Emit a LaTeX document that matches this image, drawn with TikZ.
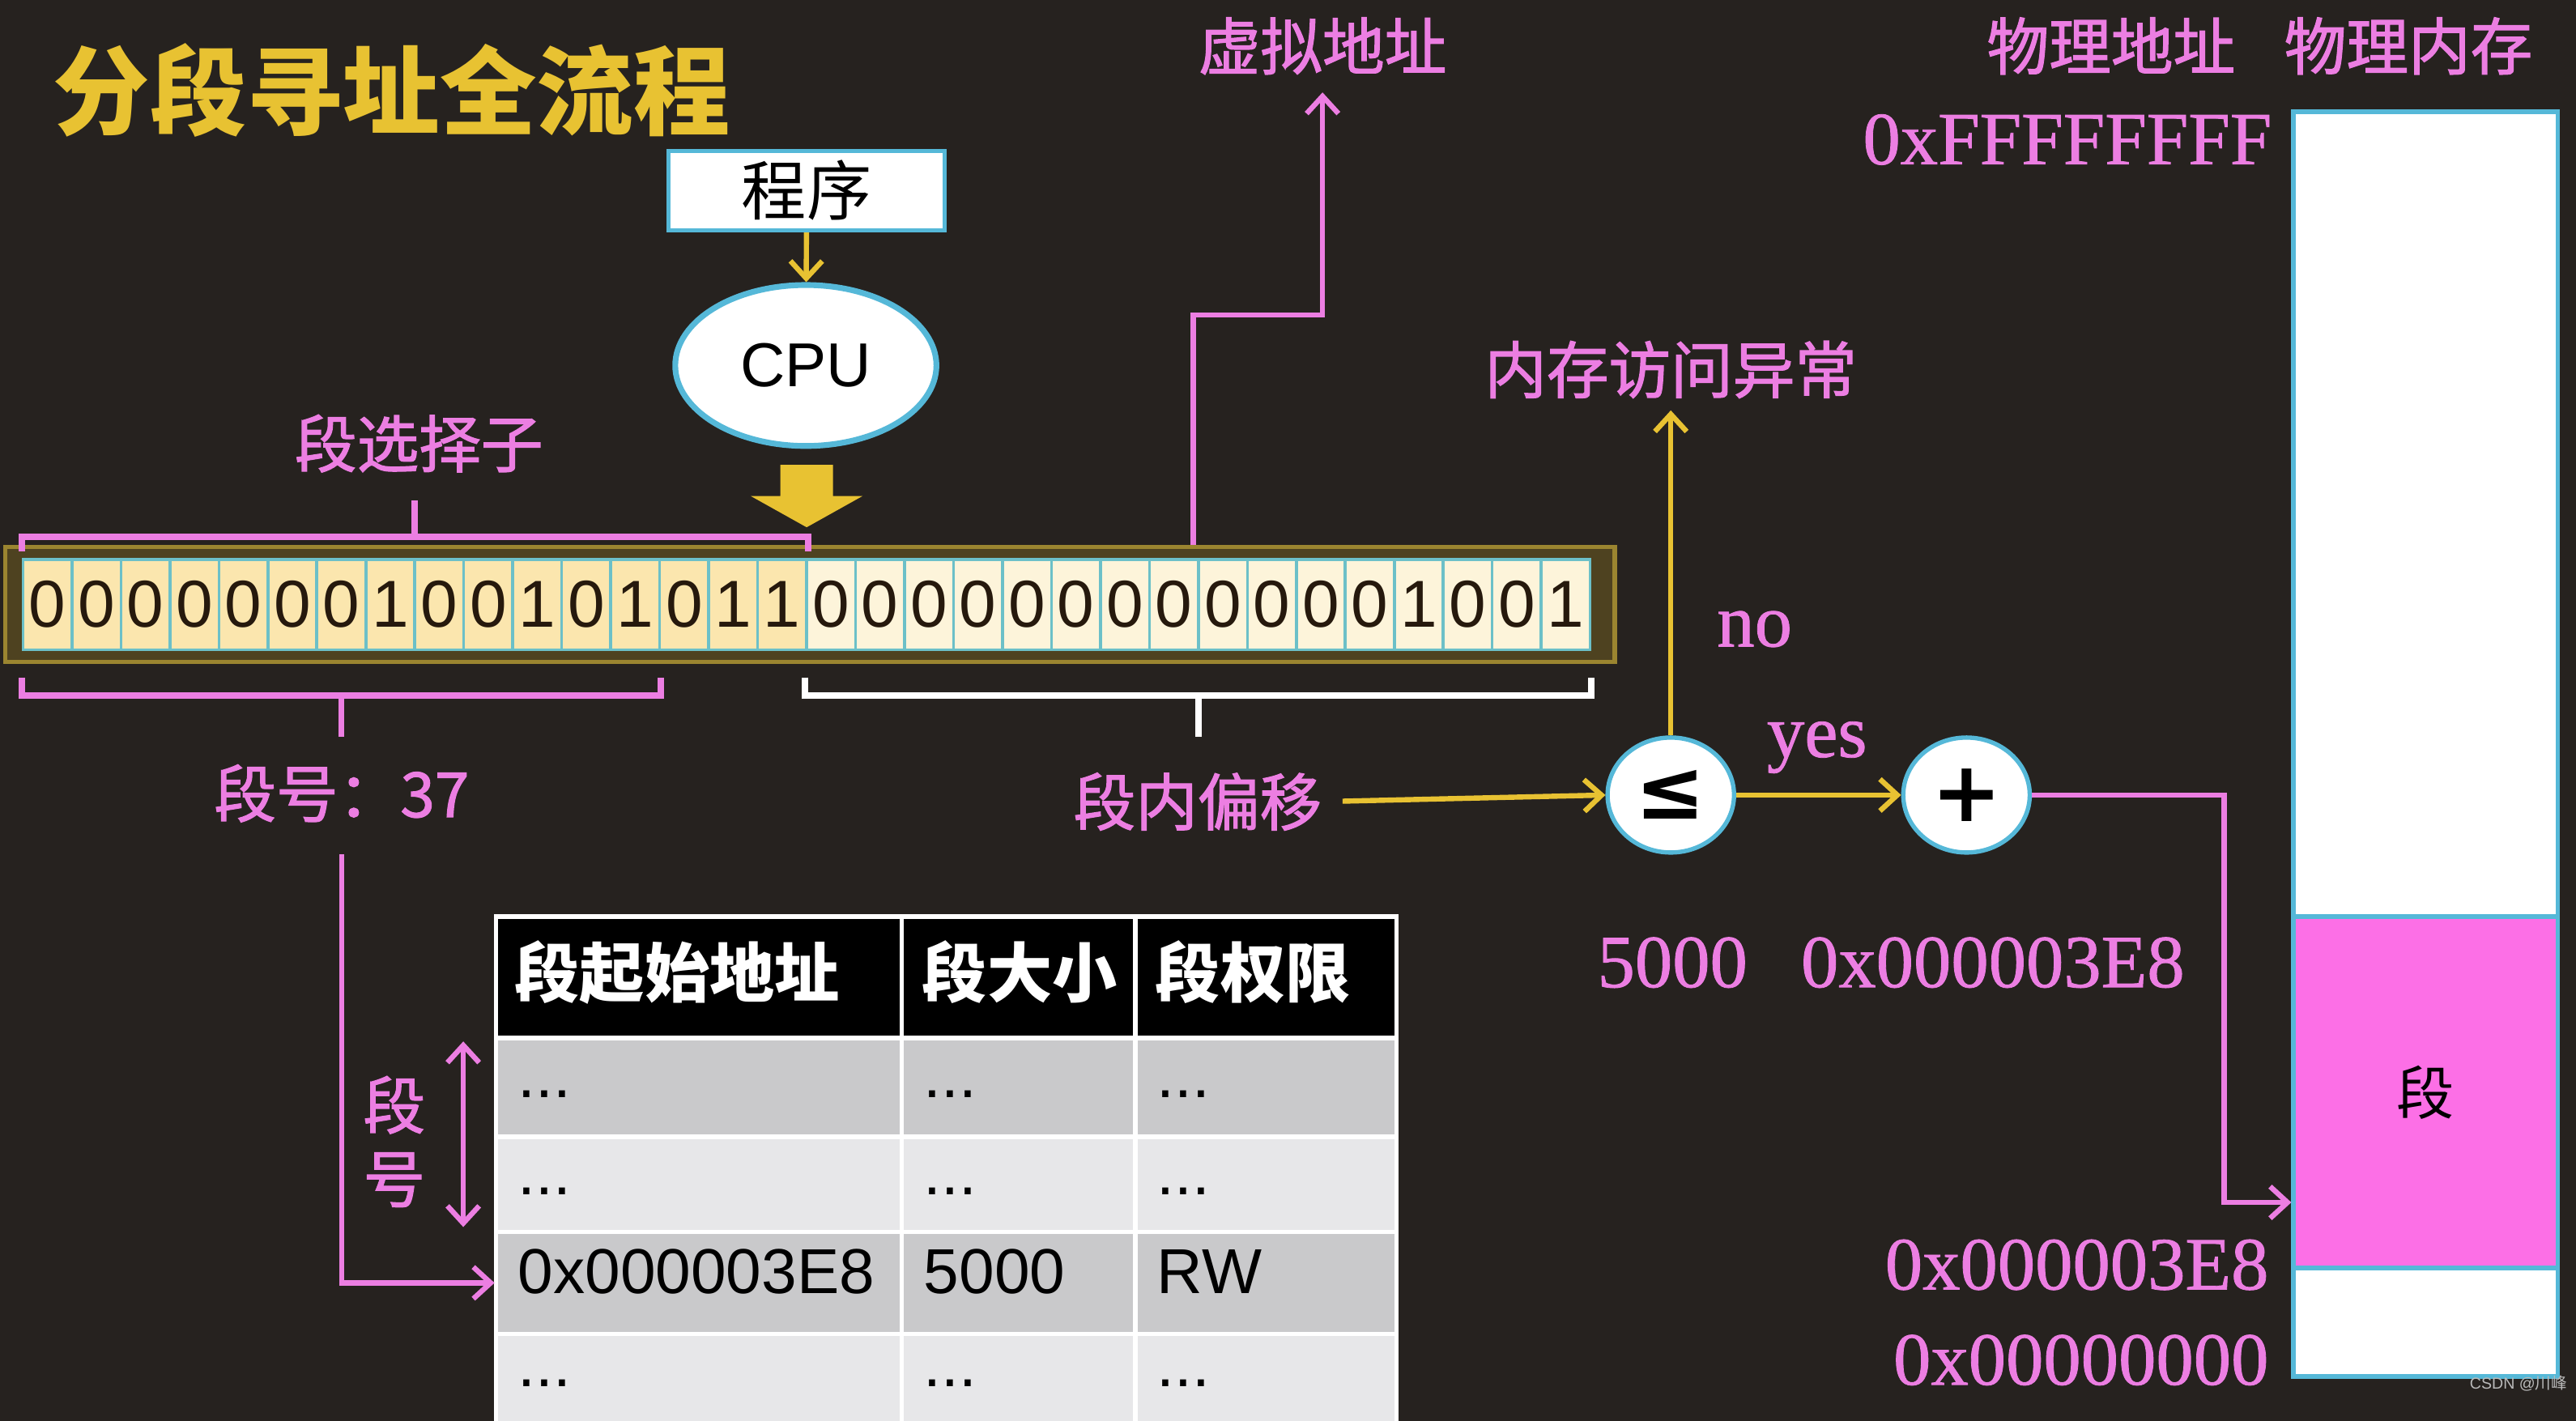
\documentclass[tikz,border=0pt]{standalone}
\usepackage{fontspec}
\setmainfont{Liberation Serif}
\setsansfont{Liberation Sans}
\newfontfamily\cjk{Noto Sans CJK SC}
\newfontfamily\cjkfat[FakeBold=1.6]{Noto Sans CJK SC}
\newfontfamily\hexf[FakeBold=0.9]{Liberation Serif}
\newfontfamily\symf{DejaVu Sans}
\usetikzlibrary{arrows.meta,shapes.geometric,calc}
\definecolor{bg}{HTML}{26221F}
\definecolor{lbl}{HTML}{EC7EE2}
\definecolor{gold}{HTML}{E8C232}
\definecolor{segpink}{HTML}{FC6FE6}
\definecolor{rim}{HTML}{55B8D8}
\definecolor{cellA}{HTML}{FBE6AE}
\definecolor{cellB}{HTML}{FDF4DA}
\definecolor{cellline}{HTML}{6CC0C8}
\definecolor{frame}{HTML}{4E4220}
\definecolor{frameline}{HTML}{9B8530}
\definecolor{rowA}{HTML}{C9C9CB}
\definecolor{rowB}{HTML}{E7E7E9}
\newcommand{\tdots}{...}
\tikzset{
  >={Straight Barb[length=6pt,width=11pt]},
}
\tikzstyle{pinkline}=[lbl,line width=1.8pt]
\tikzstyle{goldline}=[gold,line width=1.8pt]
\tikzstyle{brace}=[line width=2.2pt]
\tikzstyle{pinktext}=[text=lbl,font=\cjkfat\fontsize{21.5}{25.5}\selectfont,inner sep=1pt]
\tikzstyle{hex}=[text=lbl,font=\hexf\fontsize{26}{26}\selectfont,inner sep=1pt]
\tikzstyle{bit}=[draw=cellline,line width=1pt,minimum width=0.596cm,minimum height=1.1cm,
  inner sep=0pt,font=\sffamily\fontsize{23}{23}\selectfont,text=black!80!brown]
\tikzstyle{oper}=[ellipse,draw=rim,line width=1.5pt,fill=white,minimum width=1.54cm,
  minimum height=1.4cm,inner sep=0pt,font=\symf\bfseries\fontsize{29}{29}\selectfont]
\tikzstyle{head}=[anchor=west,text=white,font=\cjk\bfseries\fontsize{22.5}{22.5}\selectfont,inner sep=0pt]
\tikzstyle{cell}=[anchor=west,font=\sffamily\fontsize{22}{22}\selectfont,text height=0.72em,
  text depth=0pt,inner sep=0pt]

\begin{document}
\begin{tikzpicture}[x=0.02cm,y=-0.02cm]
    \fill[bg] (0,0) rectangle (1568,865);
    \useasboundingbox (0,0) rectangle (1568,865);
    \clip (0,0) rectangle (1568,865);
    % title
    \node[anchor=west,text=gold,font=\cjk\bfseries\fontsize{33.5}{34}\selectfont,inner sep=0pt]
      (title) at (32,55) {分段寻址全流程};
    % program -> cpu
    \node[draw=rim,line width=1.5pt,fill=white,minimum width=3.36cm,minimum height=0.94cm,
      font=\cjk\fontsize{22.5}{22.5}\selectfont] (prog) at (491,116) {程序};
    \node[ellipse,draw=rim,line width=2pt,fill=white,minimum width=3.18cm,minimum height=1.96cm,
      font=\sffamily\fontsize{21.5}{21.5}\selectfont] (cpu) at (490.5,222.5) {CPU};
    \draw[goldline,->] (prog) -- (cpu);
    \fill[gold] (475,283) -- (507,283) -- (507,302) -- (525,302) -- (491,321)
      -- (457,302) -- (475,302) -- cycle;
    % the 32 bit register
    \node[draw=frameline,fill=frame,line width=1.5pt,minimum width=19.6cm,minimum height=1.4cm]
      (reg) at (493,368) {};
    \foreach \b [count=\i from 0] in {0,0,0,0,0,0,0,1,0,0,1,0,1,0,1,1,
                                      0,0,0,0,0,0,0,0,0,0,0,0,1,0,0,1}{
      \ifnum\i<16 \def\fillc{cellA}\else\def\fillc{cellB}\fi
      \node[bit,fill=\fillc] (bit\i) at ({14+(\i+0.5)*29.81},368) {\b};
    }
    % selector brace
    \draw[brace,lbl] ($(bit0.north west)+(0,-4)$) -- ++(0,-9) -- ($(bit15.north east)+(0,-13)$)
      -- ++(0,9);
    \draw[brace,lbl] ($(bit0.north west)!.5!(bit15.north east)+(0,-13)$) -- ++(0,-22);
    \node[pinktext] (sel) at (255,270) {段选择子};
    % index brace and offset brace
    \draw[brace,lbl] ($(bit0.south west)+(0,16)$) -- ++(0,11) -- ($(bit12.south east)+(0,27)$)
      -- ++(0,-11);
    \draw[brace,lbl] ($(bit0.south west)!.5!(bit12.south east)+(0,27)$) -- ++(0,25);
    \draw[brace,white] ($(bit16.south west)+(0,16)$) -- ++(0,11) -- ($(bit31.south east)+(0,27)$)
      -- ++(0,-11);
    \draw[brace,white] ($(bit16.south west)!.5!(bit31.south east)+(0,27)$) -- ++(0,25);
    \node[pinktext] (segno) at (208,483) {段号：37};
    \node[pinktext] (offs) at (729,488) {段内偏移};
    % virtual address
    \node[pinktext] (vaddr) at (805,28) {虚拟地址};
    \coordinate (vstart) at ($(bit23.north east |- reg.north)+(-4,0)$);
    \draw[pinkline,->,shorten >=5pt] (vstart) -- ++(0,-140) -| (vaddr.south);
    % compare and add
    \node[oper] (cmp) at (1017,484) {≤};
    \node[oper] (plus) at (1197,484) {+};
    \node[pinktext] (fault) at (1017,225) {内存访问异常};
    \node[hex] (no) at (1068,383) {no};
    \node[hex] (yes) at (1106,455) {yes};
    \draw[goldline,->,shorten <=6pt] (offs.east) -- (cmp.west);
    \draw[goldline,->,shorten >=3pt] (cmp.north) -- (fault.south);
    \draw[goldline,->] (cmp.east) -- (plus.west);
    \node[hex] (lim) at (1018,586) {5000};
    \node[hex] (base) at (1213,586) {0x000003E8};
    % physical memory
    \node[pinktext] (paddr) at (1285,28) {物理地址};
    \node[pinktext] (pmem) at (1466,28) {物理内存};
    \node[draw=rim,fill=white,line width=1.5pt,minimum width=3.22cm,minimum height=15.4cm]
      (mem) at (1476.5,453) {};
    \node[draw=rim,fill=segpink,line width=1.5pt,minimum width=3.22cm,minimum height=4.28cm,
      font=\cjk\fontsize{20}{20}\selectfont] (seg) at (1476.5,665) {段};
    \node[hex,anchor=east] (top) at (1385,85) {0xFFFFFFFF};
    \node[hex,anchor=east] (segaddr) at (1383,770) {0x000003E8};
    \node[hex,anchor=east] (zero) at (1383,828) {0x00000000};
    \coordinate (hit) at (mem.west |- 0,732);
    \draw[pinkline,->] (plus.east) -- ++(117,0) |- (hit);
    % segment table
    \foreach \ya/\yb/\c in {558/632/black,632/692/rowA,692/750/rowB,750/812/rowA,812/890/rowB}
      \foreach \xa/\xb in {302/549,549/691,691/850}
        \draw[white,line width=1.5pt,fill=\c] (\xa,\ya) rectangle (\xb,\yb);
    \node[head] (h1) at (313,592) {段起始地址};
    \node[head] (h2) at (561,592) {段大小};
    \node[head] (h3) at (703,592) {段权限};
    \foreach \r/\y/\ta/\tb/\tc in {1/662/\tdots/\tdots/\tdots,2/721/\tdots/\tdots/\tdots,
        3/781/0x000003E8/5000/RW,4/838/\tdots/\tdots/\tdots}{
      \node[cell] (r\r a) at (315,\y) {\ta};
      \node[cell] (r\r b) at (562,\y) {\tb};
      \node[cell] (r\r c) at (704,\y) {\tc};
    }
    \coordinate (entry) at (301,781);
    \draw[pinkline,->,shorten <=10pt] (segno.south) |- (entry);
    \coordinate (idxtop) at (282,634);
    \coordinate (idxbot) at (282,747);
    \draw[pinkline,<->] (idxtop) -- (idxbot);
    \node[pinktext,align=center] (idx) at (240,695) {段\\号};
    % watermark
    \node[text=gray!55,font=\sffamily\fontsize{5.5}{6}\selectfont,inner sep=0pt]
      (mark) at (1533,842) {CSDN @{\cjk 川峰}};
\end{tikzpicture}
\end{document}
